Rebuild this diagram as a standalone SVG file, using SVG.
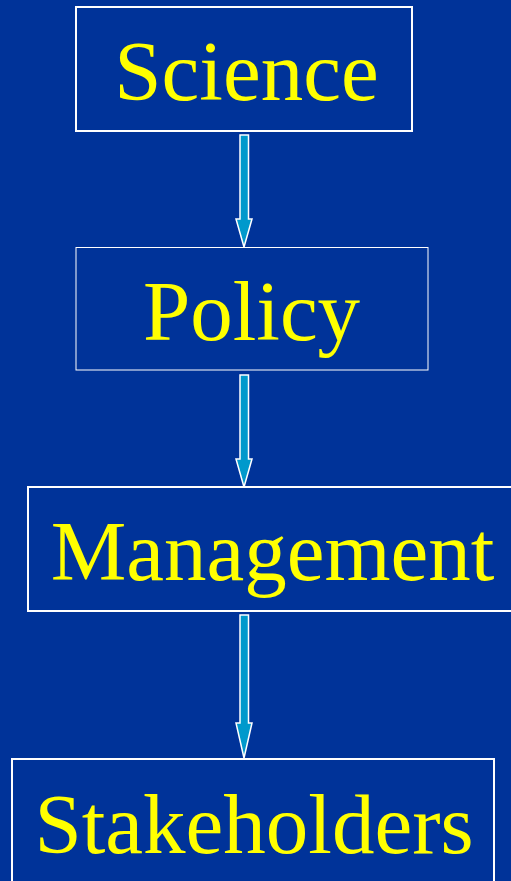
<svg xmlns="http://www.w3.org/2000/svg" width="511" height="881" viewBox="0 0 511 881">
<style>
.box{fill:#003399;stroke:#ffffff;stroke-width:2}
.thin{stroke-width:1}
.arr{fill:#0099cc;stroke:#ffffff;stroke-width:1.5;stroke-linejoin:miter}
</style>
<rect x="0" y="0" width="511" height="881" fill="#003399"/>
<g id="connectors">
<path class="arr" d="M240,135 H248.5 V219 H252 L244,247 L236,219 H240 Z"/>
<path class="arr" d="M240,375 H248.5 V459 H252 L244,487 L236,459 H240 Z"/>
<path class="arr" d="M240,615 H248.5 V723 H252 L244,758 L236,723 H240 Z"/>
</g>
<g font-family="Liberation Serif" font-size="85" fill="#ffff00" text-anchor="middle">
<g id="science">
<rect class="box" x="76" y="7" width="336" height="124"/>
<text x="246.5" y="100">Science</text>
</g>
<g id="policy">
<rect class="box thin" x="76" y="247.5" width="352" height="122.5"/>
<text x="251.5" y="340">Policy</text>
</g>
<g id="management">
<rect class="box" x="28" y="487" width="490" height="124"/>
<text x="272.5" y="580">Management</text>
</g>
<g id="stakeholders">
<rect class="box" x="12" y="759" width="482" height="130"/>
<text x="254" y="853">Stakeholders</text>
</g>
</g>
</svg>
